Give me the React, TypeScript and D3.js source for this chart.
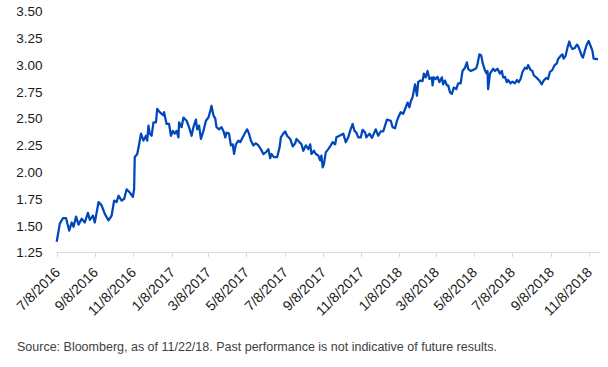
import React from "react";
import * as d3 from "d3";

const dates: string[] = [
  "2016-07-08","2016-07-13","2016-07-18","2016-07-23","2016-07-28","2016-08-01","2016-08-04","2016-08-08","2016-08-12","2016-08-17",
  "2016-08-22","2016-08-27","2016-08-30","2016-09-04","2016-09-07","2016-09-13","2016-09-18","2016-09-23","2016-09-29","2016-10-04",
  "2016-10-08","2016-10-12","2016-10-15","2016-10-20","2016-10-24","2016-10-28","2016-11-02","2016-11-07","2016-11-09","2016-11-10",
  "2016-11-14","2016-11-17","2016-11-20","2016-11-24","2016-11-28","2016-11-30","2016-12-02","2016-12-04","2016-12-07","2016-12-10",
  "2016-12-14","2016-12-16","2016-12-20","2016-12-26","2016-12-27","2016-12-31","2017-01-04","2017-01-07","2017-01-10","2017-01-13",
  "2017-01-16","2017-01-19","2017-01-20","2017-01-24","2017-01-27","2017-02-01","2017-02-05","2017-02-09","2017-02-12","2017-02-16",
  "2017-02-18","2017-02-21","2017-02-24","2017-02-28","2017-03-04","2017-03-08","2017-03-11","2017-03-13","2017-03-16","2017-03-19",
  "2017-03-21","2017-03-25","2017-03-29","2017-04-01","2017-04-04","2017-04-06","2017-04-10","2017-04-13","2017-04-16","2017-04-18",
  "2017-04-21","2017-04-25","2017-04-28","2017-05-02","2017-05-06","2017-05-09","2017-05-12","2017-05-15","2017-05-19","2017-05-23",
  "2017-05-27","2017-05-31","2017-06-04","2017-06-08","2017-06-12","2017-06-15","2017-06-17","2017-06-21","2017-06-26","2017-06-30",
  "2017-07-02","2017-07-06","2017-07-09","2017-07-12","2017-07-17","2017-07-21","2017-07-25","2017-07-27","2017-08-01","2017-08-04",
  "2017-08-07","2017-08-11","2017-08-15","2017-08-18","2017-08-20","2017-08-24","2017-08-27","2017-08-31","2017-09-03","2017-09-05",
  "2017-09-07","2017-09-09","2017-09-12","2017-09-16","2017-09-20","2017-09-23","2017-09-27","2017-09-29","2017-10-04","2017-10-07",
  "2017-10-10","2017-10-14","2017-10-18","2017-10-21","2017-10-25","2017-10-28","2017-10-31","2017-11-03","2017-11-07","2017-11-10",
  "2017-11-14","2017-11-16","2017-11-21","2017-11-25","2017-11-28","2017-12-01","2017-12-05","2017-12-09","2017-12-13","2017-12-19",
  "2017-12-25","2017-12-28","2018-01-01","2018-01-04","2018-01-06","2018-01-10","2018-01-14","2018-01-17","2018-01-21","2018-01-24",
  "2018-01-26","2018-01-29","2018-02-02","2018-02-05","2018-02-07","2018-02-10","2018-02-14","2018-02-16","2018-02-19","2018-02-22",
  "2018-02-25","2018-03-01","2018-03-02","2018-03-04","2018-03-07","2018-03-10","2018-03-13","2018-03-17","2018-03-19","2018-03-22",
  "2018-03-25","2018-03-27","2018-03-30","2018-04-02","2018-04-05","2018-04-09","2018-04-12","2018-04-16","2018-04-19","2018-04-23",
  "2018-04-26","2018-04-28","2018-05-02","2018-05-06","2018-05-11","2018-05-13","2018-05-16","2018-05-19","2018-05-21","2018-05-24",
  "2018-05-27","2018-05-29","2018-05-30","2018-06-02","2018-06-07","2018-06-10","2018-06-14","2018-06-18","2018-06-21","2018-06-23",
  "2018-06-26","2018-06-29","2018-07-01","2018-07-05","2018-07-08","2018-07-12","2018-07-15","2018-07-18","2018-07-21","2018-07-24",
  "2018-07-28","2018-07-31","2018-08-02","2018-08-06","2018-08-09","2018-08-11","2018-08-16","2018-08-20","2018-08-24","2018-08-27",
  "2018-08-31","2018-09-03","2018-09-06","2018-09-10","2018-09-13","2018-09-17","2018-09-19","2018-09-23","2018-09-26","2018-09-28",
  "2018-10-01","2018-10-04","2018-10-07","2018-10-09","2018-10-12","2018-10-16","2018-10-19","2018-10-21","2018-10-24","2018-10-27",
  "2018-10-29","2018-11-01","2018-11-04","2018-11-07","2018-11-10","2018-11-13","2018-11-15","2018-11-20","2018-11-22"
];

const values: number[] = [
  1.35,1.52,1.57,1.57,1.455,1.53,1.49,1.585,1.51,1.565,
  1.53,1.62,1.555,1.595,1.53,1.72,1.69,1.61,1.55,1.595,
  1.735,1.72,1.78,1.735,1.75,1.84,1.81,1.77,1.84,2.14,
  2.17,2.26,2.36,2.295,2.34,2.295,2.435,2.36,2.34,2.465,
  2.465,2.59,2.56,2.53,2.56,2.45,2.45,2.34,2.385,2.36,
  2.385,2.325,2.465,2.42,2.51,2.48,2.42,2.34,2.42,2.49,
  2.40,2.435,2.31,2.385,2.48,2.51,2.57,2.62,2.53,2.50,
  2.42,2.40,2.42,2.385,2.325,2.37,2.36,2.25,2.26,2.17,
  2.26,2.295,2.28,2.325,2.37,2.40,2.36,2.295,2.25,2.27,
  2.25,2.215,2.17,2.185,2.215,2.13,2.17,2.14,2.14,2.23,
  2.325,2.36,2.38,2.34,2.31,2.24,2.27,2.31,2.28,2.26,
  2.20,2.25,2.215,2.26,2.17,2.20,2.17,2.155,2.11,2.155,
  2.045,2.075,2.185,2.215,2.25,2.28,2.26,2.325,2.34,2.35,
  2.36,2.28,2.325,2.385,2.45,2.385,2.37,2.325,2.325,2.395,
  2.37,2.325,2.36,2.32,2.36,2.40,2.34,2.38,2.38,2.49,
  2.48,2.42,2.41,2.48,2.51,2.56,2.545,2.59,2.65,2.605,
  2.66,2.70,2.82,2.715,2.84,2.855,2.85,2.92,2.885,2.945,
  2.87,2.885,2.81,2.885,2.87,2.89,2.84,2.885,2.82,2.855,
  2.81,2.81,2.745,2.73,2.79,2.775,2.83,2.83,2.945,2.975,
  3.025,2.965,2.945,2.955,2.97,3.01,3.10,3.09,3.025,2.965,
  2.925,2.945,2.775,2.92,2.965,2.945,2.965,2.92,2.945,2.885,
  2.89,2.84,2.86,2.83,2.845,2.83,2.86,2.84,2.87,2.935,
  2.975,2.965,3.00,2.955,2.945,2.905,2.88,2.855,2.82,2.855,
  2.88,2.87,2.935,2.955,2.995,3.015,3.055,3.085,3.10,3.06,
  3.085,3.16,3.22,3.18,3.15,3.16,3.19,3.18,3.135,3.085,
  3.07,3.135,3.19,3.225,3.18,3.135,3.06,3.055,3.055
];

const yTicks: number[] = [1.25, 1.5, 1.75, 2.0, 2.25, 2.5, 2.75, 3.0, 3.25, 3.5];
const xTickDates: string[] = [
  "2016-07-08","2016-09-08","2016-11-08","2017-01-08","2017-03-08","2017-05-08","2017-07-08","2017-09-08",
  "2017-11-08","2018-01-08","2018-03-08","2018-05-08","2018-07-08","2018-09-08","2018-11-08"
];
const footer = "Source: Bloomberg, as of 11/22/18. Past performance is not indicative of future results.";

const parse = d3.utcParse("%Y-%m-%d");
const fmt = d3.utcFormat("%-m/%-d/%Y");

export default function App() {
  const W = 608, H = 367;
  const x = d3.scaleUtc()
    .domain([parse("2016-07-08")!, parse("2018-11-22")!])
    .range([56.7, 598]);
  const y = d3.scaleLinear().domain([1.25, 3.5]).range([252.5, 11.5]);
  const data = dates.map((d, i) => ({ d: parse(d)!, v: values[i] }));
  const line = d3.line<{ d: Date; v: number }>().x(p => x(p.d)).y(p => y(p.v));
  const font = "'Liberation Sans', Arial, sans-serif";
  const axisY = y(1.25);
  return (
    <svg width={W} height={H} style={{ position: "absolute", left: 0, top: 0, background: "#fff" }}>
      <line x1={56.5} x2={600} y1={axisY} y2={axisY} stroke="#d9d9d9" strokeWidth={1} />
      {xTickDates.map(t => {
        const tx = Math.round(x(parse(t)!)) + 0.5;
        return (
          <g key={t}>
            <line x1={tx} x2={tx} y1={axisY} y2={axisY + 4.5} stroke="#d9d9d9" />
            <text
              transform={`translate(${tx + 1},${axisY + 18}) rotate(-45)`}
              textAnchor="end"
              dominantBaseline="middle"
              fontFamily={font}
              fontSize={14}
              fill="#1a1a1a"
            >
              {fmt(parse(t)!)}
            </text>
          </g>
        );
      })}
      {yTicks.map(t => (
        <text key={t} x={42.5} y={y(t)} dy="0.36em" textAnchor="end" fontFamily={font} fontSize={13.5} fill="#1a1a1a">
          {t.toFixed(2)}
        </text>
      ))}
      <path d={line(data) || ""} fill="none" stroke="#0047BB" strokeWidth={2.25} strokeLinejoin="round" />
      <text x={17} y={351} fontFamily={font} fontSize={12.5} fill="#404040">{footer}</text>
    </svg>
  );
}
